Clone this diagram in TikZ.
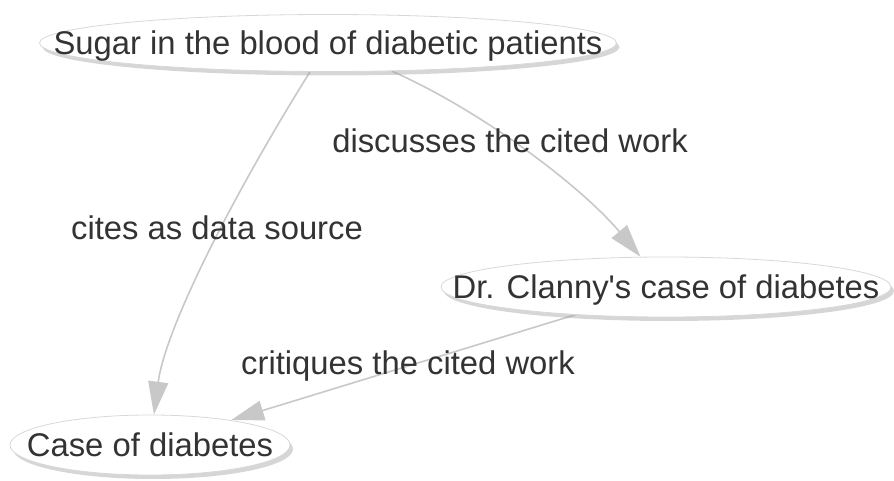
\documentclass[tikz,border=0pt]{standalone}
\usepackage{fontspec}
\setmainfont{Liberation Sans}
\usetikzlibrary{shapes.geometric,shadows,arrows.meta}
\definecolor{txt}{HTML}{333333}
\definecolor{edgegray}{HTML}{C8C8C8}
\definecolor{bordergray}{HTML}{D8D8D8}
\pgfdeclarelayer{bg}
\pgfsetlayers{bg,main}
\newcommand{\zw}[1]{\makebox[0pt]{\raisebox{-11.7pt}[0pt][0pt]{#1}}}
\tikzset{
  nodebox/.style={ellipse, draw=bordergray, line width=0.8pt, fill=white, inner sep=0pt,
    text=txt, font=\fontsize{32.8}{39}\selectfont, text height=0pt, text depth=0pt,
    drop shadow={shadow xshift=3pt, shadow yshift=-4pt, fill=black!40, opacity=0.4}},
  conn/.style={draw=edgegray, line width=1.6pt,
    -{Triangle[length=33pt,width=20pt,fill=edgegray]}},
  lbl/.style={text=txt, font=\fontsize{32.8}{39}\selectfont, inner sep=0pt}
}
\begin{document}
\begin{tikzpicture}[x=1pt,y=-1pt]
\useasboundingbox (0,0) rectangle (894,481);
\node[nodebox, minimum width=577pt, minimum height=57pt] (A) at (328,43) {\zw{Sugar in the blood of diabetic patients}};
\node[nodebox, minimum width=450pt, minimum height=60pt] (B) at (666,287) {\zw{Dr. Clanny\textquotesingle s case of diabetes}};
\node[nodebox, minimum width=280pt, minimum height=60pt] (C) at (150,445) {\zw{Case of diabetes}};
\node[lbl] (l1) at (217,228) {cites as data source};
\node[lbl] (l2) at (510,141) {discusses the cited work};
\node[lbl] (l3) at (408,366) {critiques the cited work};
\begin{pgfonlayer}{bg}
\draw[conn] (A) .. controls (230,200) and (165,330) .. (C);
\draw[conn] (A) .. controls (480,110) and (580,185) .. (B);
\draw[conn] (B) -- (C);
\end{pgfonlayer}
\end{tikzpicture}
\end{document}
